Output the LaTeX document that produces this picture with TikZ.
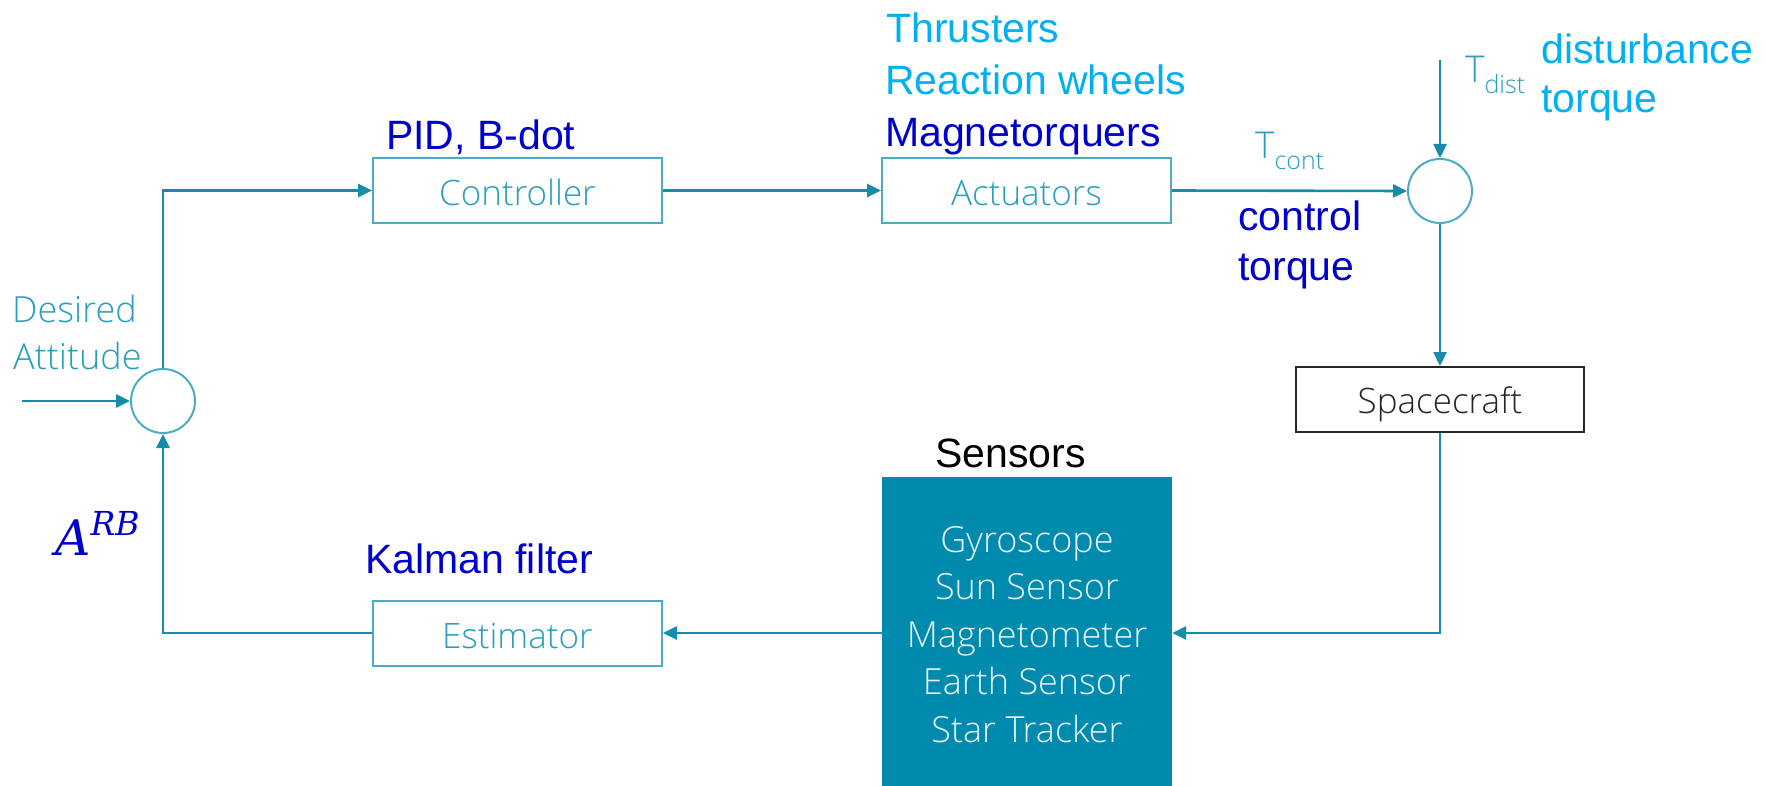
\documentclass[tikz,border=0pt]{standalone}
\usepackage{fontspec}
\setmainfont{Liberation Sans}
\newfontfamily\symfont{DejaVu Serif}
\IfFontExistsTF{Open Sans Light}
  {\newfontfamily\segfont{Open Sans Light}}
  {\newfontfamily\segfont{Open Sans}}
\usetikzlibrary{arrows.meta}

\definecolor{flow}{RGB}{20,140,170}
\definecolor{boxedge}{RGB}{75,172,198}
\definecolor{boxtext}{RGB}{40,158,188}
\definecolor{sensfill}{RGB}{0,138,173}
\definecolor{senstext}{RGB}{228,244,248}
\definecolor{skyblue}{RGB}{0,176,240}
\definecolor{deepblue}{RGB}{0,0,204}

\tikzset{
  flowline/.style={draw=flow, line width=2.6pt, -{Triangle[length=14pt,width=13pt]}},
  block/.style={draw=boxedge, line width=2pt, minimum width=289pt, minimum height=65pt,
    inner sep=0pt, text height=30pt, text depth=0pt,
    font=\segfont\fontsize{35}{42}\selectfont, text=boxtext},
  sumjunction/.style={circle, draw=boxedge, line width=2pt, minimum size=64pt, inner sep=0pt},
  note/.style={inner sep=0pt, anchor=base west, font=\fontsize{41}{50}\selectfont},
  lighttext/.style={inner sep=0pt, anchor=base west, font=\segfont\fontsize{36}{42}\selectfont, text=boxtext},
  sensitem/.style={inner sep=0pt, anchor=base, font=\segfont\fontsize{36}{42}\selectfont, text=senstext},
}

\begin{document}
\begin{tikzpicture}[x=1pt, y=-1pt]
\useasboundingbox (0,0) rectangle (1766,786);

% blocks of the loop
\node[block] (ctrl) at (517.5,190.5) {Controller};
\node[block] (act) at (1026.5,190.5) {Actuators};
\node[block] (est) at (517.5,633) {Estimator};
\node[block, draw=black!85, text=black!85, minimum width=288pt, text height=28pt] (sc) at (1440,399.5) {Spacecraft};
\node[fill=sensfill, draw=none, minimum width=290pt, minimum height=312pt, inner sep=0pt] (sens) at (1027,633) {};

% summing junctions
\node[sumjunction] (sumL) at (163,401) {};
\node[sumjunction] (sumR) at (1440,191) {};

% sensor list
\node[sensitem] (s1) at (1027,552) {Gyroscope};
\node[sensitem] (s2) at (1027,599) {Sun Sensor};
\node[sensitem] (s3) at (1027,647) {Magnetometer};
\node[sensitem] (s4) at (1027,694) {Earth Sensor};
\node[sensitem] (s5) at (1027,742) {Star Tracker};

% free ends of the inputs
\coordinate (refin) at (22,401);
\coordinate (distin) at (1440,60);

% connectors
\draw[flowline] (ctrl.east) -- (act.west);
\draw[flowline] (act.east) -- (sumR.west);
\draw[flowline] (distin) -- (sumR.north);
\draw[flowline] (sumR.south) -- (sc.north);
\draw[flowline] (sc.south) |- (sens.east);
\draw[flowline] (sens.west) -- (est.east);
\draw[flowline] (est.west) -| (sumL.south);
\draw[flowline] (sumL.north) |- (ctrl.west);
\draw[flowline] (refin) -- (sumL.west);

% signal labels
\node[lighttext] (des1) at (12,322) {Desired};
\node[lighttext] (des2) at (13,369) {Attitude};
\node[lighttext, font=\segfont\fontsize{37}{42}\selectfont] (tcont) at (1255,159)
  {T\raisebox{-11pt}{\fontsize{25}{25}\selectfont cont}};
\node[lighttext, font=\segfont\fontsize{37}{42}\selectfont] (tdist) at (1465,83)
  {T\raisebox{-11pt}{\fontsize{25}{25}\selectfont dist}};
\node[inner sep=0pt, anchor=base west, text=deepblue, font=\symfont\itshape\fontsize{49}{49}\selectfont] (arb) at (55,555)
  {A\raisebox{20pt}{\fontsize{33}{33}\selectfont RB}};

% annotations
\node[note, text=deepblue] (pid) at (386,150) {PID, B-dot};
\node[note, text=skyblue] (thr) at (886,43) {Thrusters};
\node[note, text=skyblue] (rw) at (885,95) {Reaction wheels};
\node[note, text=deepblue] (mtq) at (885,147) {Magnetorquers};
\node[note, text=deepblue] (ct1) at (1238,231) {control};
\node[note, text=deepblue] (ct2) at (1238,280) {torque};
\node[note, text=skyblue] (dt1) at (1541,64) {disturbance};
\node[note, text=skyblue] (dt2) at (1541,113) {torque};
\node[note, text=black] (senslabel) at (935,467) {Sensors};
\node[note, text=deepblue] (kal) at (365,573) {Kalman filter};
\end{tikzpicture}
\end{document}
